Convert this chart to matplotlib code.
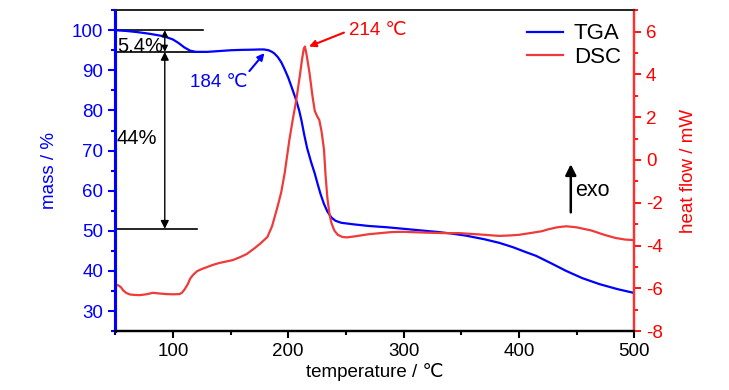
import matplotlib
matplotlib.use("Agg")
import matplotlib.pyplot as plt
from matplotlib.ticker import MultipleLocator
from matplotlib.lines import Line2D

plt.rcParams['font.family'] = ['Liberation Sans', 'DejaVu Sans']
plt.rcParams['axes.unicode_minus'] = False

# TGA: temperature (C) vs mass (%)
tga_t = [50, 55, 60, 70, 80, 90, 95, 100, 105, 110, 115, 120, 130, 140, 150,
         160, 170, 175, 179, 183, 186, 188, 191, 194, 197, 200, 203, 207,
         209.5, 211.5, 214, 216.5, 220, 223, 225.5, 228, 231, 234, 237.5, 241,
         246, 257, 270, 285, 300, 315, 330, 342, 354, 370, 383, 395, 405, 415,
         428, 441, 455, 470, 485, 500]
tga_m = [100.0, 99.9, 99.8, 99.5, 99.1, 98.6, 98.2, 97.7, 96.8, 95.7, 94.9,
         94.6, 94.6, 94.8, 95.0, 95.1, 95.15, 95.2, 95.2, 95.0, 94.6, 94.2,
         93.3, 92.0, 90.2, 88.2, 85.8, 82.5, 80.0, 77.5, 73.8, 70.5, 67.0,
         64.3, 61.7, 59.2, 56.7, 54.8, 53.3, 52.5, 52.0, 51.6, 51.2, 50.9,
         50.5, 50.1, 49.7, 49.3, 48.8, 47.9, 47.0, 45.9, 44.8, 43.75, 41.9,
         40.0, 38.2, 36.7, 35.5, 34.5]

# DSC: temperature (C) vs heat flow (mW)
dsc_t = [50, 52.4, 55, 57, 59.7, 63, 67, 71.2, 77, 82.7, 88, 94.3, 100, 105.8,
         108, 110.2, 113, 115, 117.4, 121, 125, 129, 135, 140, 146, 152, 158,
         164, 171, 176, 182, 186, 190.7, 194, 197, 201, 204, 207, 210, 212,
         213.5, 214.5, 216, 218.5, 221, 223, 225, 227, 229, 231, 232.5, 234,
         236, 237.5, 240, 243, 247, 251, 258, 264, 270, 280, 290, 300, 310,
         320, 335, 348, 365, 383, 392, 400, 412, 420, 425, 433, 441, 450, 463,
         474, 484, 492, 500]
dsc_h = [-5.9, -5.85, -5.95, -6.1, -6.22, -6.29, -6.31, -6.32, -6.28, -6.21,
         -6.24, -6.27, -6.28, -6.27, -6.2, -6.05, -5.8, -5.55, -5.38, -5.2,
         -5.1, -5.02, -4.9, -4.82, -4.75, -4.68, -4.55, -4.4, -4.12, -3.9,
         -3.6, -3.1, -2.2, -1.5, -0.6, 0.93, 1.9, 2.8, 3.9, 4.7, 5.2, 5.3,
         4.9, 4.05, 3.0, 2.3, 2.05, 1.86, 1.3, 0.5, -0.8, -1.8, -2.6, -2.95,
         -3.3, -3.5, -3.6, -3.62, -3.57, -3.52, -3.47, -3.42, -3.37, -3.36,
         -3.38, -3.4, -3.42, -3.42, -3.48, -3.55, -3.53, -3.5, -3.4, -3.33,
         -3.25, -3.15, -3.1, -3.15, -3.3, -3.5, -3.65, -3.72, -3.75]

blue = '#0000ff'
red = '#f03a3a'

fig = plt.figure(figsize=(7.29, 3.9), dpi=100)
ax = fig.add_axes([0.158, 0.151, 0.712, 0.823])
ax2 = ax.twinx()

ax.plot(tga_t, tga_m, color=blue, lw=1.6, zorder=3)
ax2.plot(dsc_t, dsc_h, color=red, lw=1.6)

ax.set_xlim(50, 500)
ax.set_ylim(25, 105)
ax2.set_ylim(-8, 7)

ax.xaxis.set_major_locator(MultipleLocator(100))
ax.xaxis.set_minor_locator(MultipleLocator(50))
ax.yaxis.set_minor_locator(MultipleLocator(5))
ax.set_yticks(range(30, 101, 10))
ax2.yaxis.set_major_locator(MultipleLocator(2))
ax2.yaxis.set_minor_locator(MultipleLocator(1))

ax.tick_params(axis='x', which='major', length=5, width=1.5, labelsize=13.5, colors='black')
ax.tick_params(axis='x', which='minor', length=3, width=1.5)
ax.tick_params(axis='y', which='major', length=5, width=1.5, labelsize=13.5,
               colors=blue)
ax.tick_params(axis='y', which='minor', length=3, width=1.5, colors=blue)
ax2.tick_params(axis='y', which='major', length=5, width=1.3, labelsize=13.5,
                colors='#ff0000')
ax2.tick_params(axis='y', which='minor', length=3, width=1.3, colors='#ff0000')

for a in (ax, ax2):
    a.spines['left'].set_color(blue)
    a.spines['left'].set_linewidth(2.2)
    a.spines['right'].set_color('#ff3030')
    a.spines['right'].set_linewidth(1.6)
    a.spines['bottom'].set_linewidth(1.6)
    a.spines['top'].set_linewidth(1.2)
    a.spines['top'].set_color('#222222')

ax.set_xlabel('temperature / ℃', fontsize=13.5, labelpad=2)
ax.set_ylabel('mass / %', fontsize=13.5, color=blue, labelpad=10)
ax2.set_ylabel('heat flow / mW', fontsize=13.5, color='#ff0000', labelpad=12)

# step markers
ax.plot([50, 126], [100, 100], color='black', lw=1.2)
ax.plot([50, 126], [94.6, 94.6], color='black', lw=1.2)
ax.plot([50, 121], [50.5, 50.5], color='black', lw=1.2)
ax.annotate('', xy=(93, 100), xytext=(93, 94.6),
            arrowprops=dict(arrowstyle='<|-|>', color='black', lw=1.0,
                            mutation_scale=9, shrinkA=0, shrinkB=0))
ax.annotate('', xy=(93, 94.6), xytext=(93, 50.5),
            arrowprops=dict(arrowstyle='<|-|>', color='black', lw=1.0,
                            mutation_scale=12, shrinkA=0, shrinkB=0))
ax.text(51.5, 96, '5.4%', fontsize=14.5, va='center', ha='left')
ax.text(51.5, 73.1, '44%', fontsize=14.5, va='center', ha='left')

ax.annotate('184 ℃', xy=(179.4, 94.3), xytext=(114.5, 87), color=blue,
            fontsize=13.5, va='center', ha='left',
            arrowprops=dict(arrowstyle='-|>', color=blue, lw=1.5,
                            mutation_scale=10, shrinkA=0, shrinkB=0,
                            relpos=(1.0, 1.0)))
ax2.annotate('214 ℃', xy=(218, 5.3), xytext=(253, 6.05), color='#ff0000',
             fontsize=13.5, va='center', ha='left',
             arrowprops=dict(arrowstyle='-|>', color='#ff0000', lw=1.5,
                             mutation_scale=10, shrinkA=2, shrinkB=0,
                             relpos=(0.0, 0.5)))

ax2.annotate('', xy=(445, -0.2), xytext=(445, -2.45),
             arrowprops=dict(arrowstyle='-|>', color='black', lw=1.8,
                             mutation_scale=16, shrinkA=0, shrinkB=0))
ax2.text(449, -1.45, 'exo', fontsize=15.5, va='center', ha='left')

handles = [Line2D([], [], color=blue, lw=1.6), Line2D([], [], color=red, lw=1.6)]
ax2.legend(handles, ['TGA', 'DSC'], loc='upper right', frameon=False,
           fontsize=16, handlelength=1.6, handletextpad=0.5, labelspacing=0.1,
           borderaxespad=0.2)

fig.savefig('out.png', dpi=100)
